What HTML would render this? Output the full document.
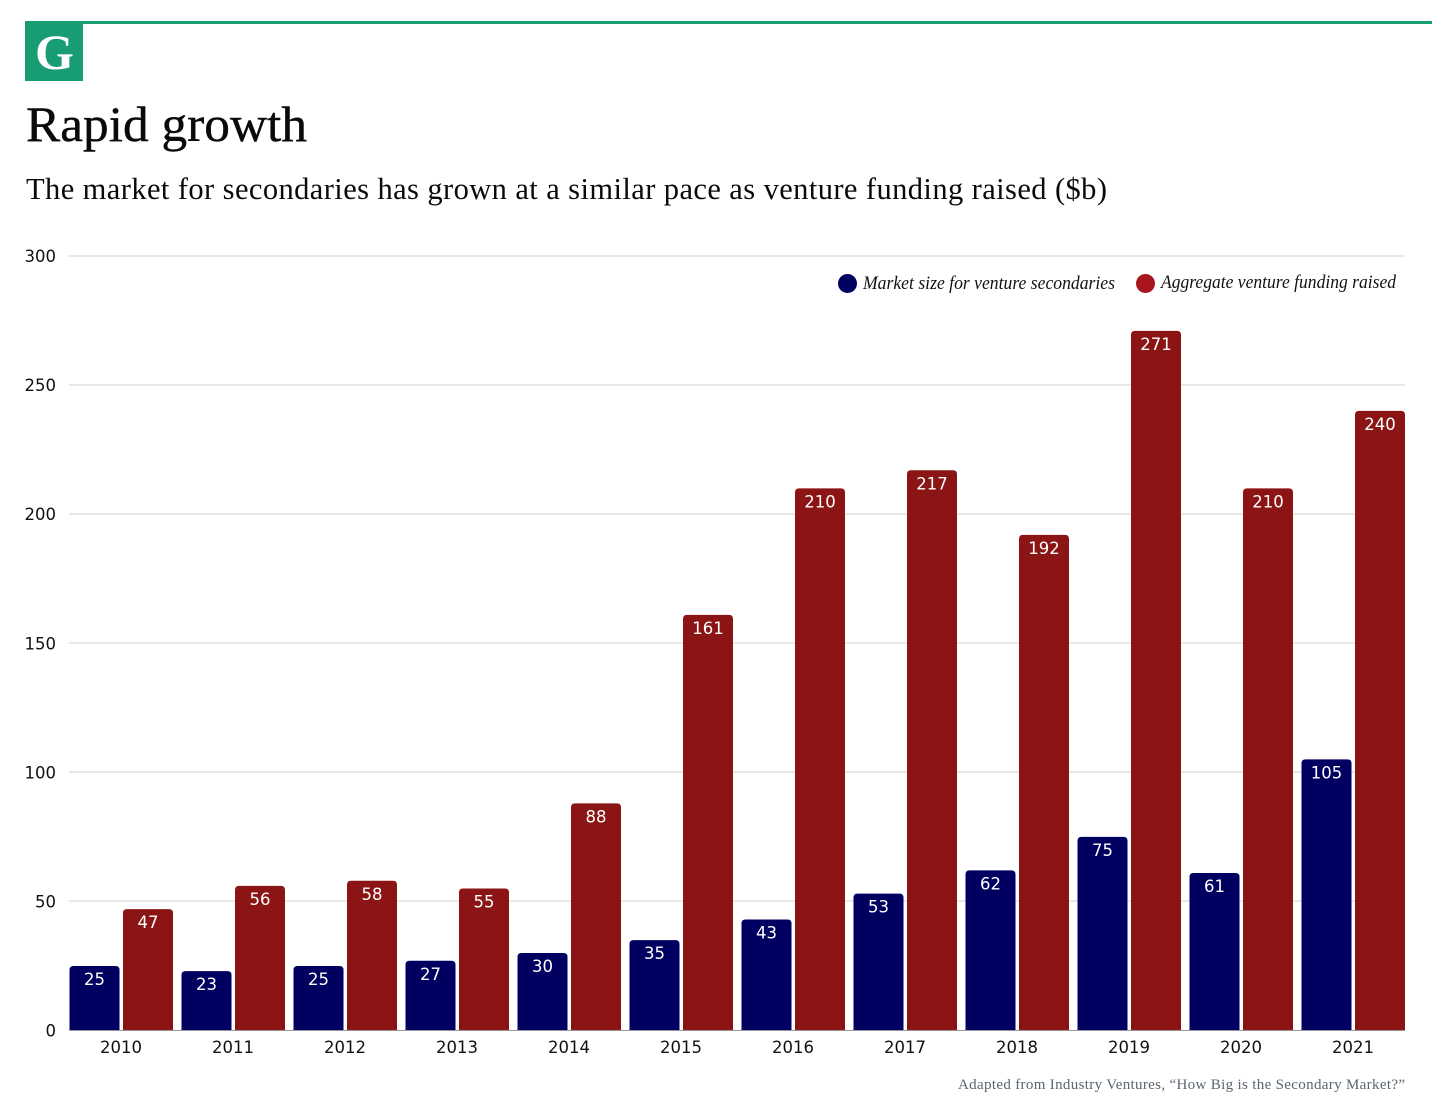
<!DOCTYPE html>
<html lang="en">
<head>
<meta charset="utf-8">
<title>Rapid growth</title>
<style>
html,body{margin:0;padding:0;background:#fff;width:1456px;height:1108px;overflow:hidden}
svg{display:block}
.serif{font-family:"Liberation Serif",serif}
.sans{font-family:"DejaVu Sans",sans-serif}
</style>
</head>
<body>
<svg id="chart" width="1456" height="1108" viewBox="0 0 1456 1108" xmlns="http://www.w3.org/2000/svg">
  <rect width="1456" height="1108" fill="#ffffff"/>
  <rect x="25" y="21" width="1407" height="3" fill="#179c73"/>
  <rect x="25" y="22" width="58" height="59" fill="#179c73"/>
  <text class="serif" x="54.5" y="69" font-size="50" font-weight="700" fill="#ffffff" text-anchor="middle">G</text>
  <text class="serif" x="26" y="141" font-size="50" fill="#0a0a0a" stroke="#0a0a0a" stroke-width="0.4" textLength="281" lengthAdjust="spacingAndGlyphs">Rapid growth</text>
  <text class="serif" x="26" y="199" font-size="30.5" fill="#0a0a0a" textLength="1081" lengthAdjust="spacing">The market for secondaries has grown at a similar pace as venture funding raised ($b)</text>
  <g id="grid"></g>
  <g id="bars"></g>
  <g id="xlabels"></g>
  <rect x="69" y="1030" width="1336" height="1" fill="#999999"/>
  <circle cx="847.5" cy="283.5" r="9.5" fill="#000060"/>
  <text class="serif" x="863" y="289" font-size="19" font-style="italic" fill="#111111" textLength="252" lengthAdjust="spacingAndGlyphs">Market size for venture secondaries</text>
  <circle cx="1145.5" cy="283.5" r="9.5" fill="#a8151c"/>
  <text class="serif" x="1161" y="288" font-size="19" font-style="italic" fill="#111111" textLength="235" lengthAdjust="spacingAndGlyphs">Aggregate venture funding raised</text>
  <text class="serif" x="1405" y="1089" font-size="15" fill="#5a6570" text-anchor="end" textLength="447" lengthAdjust="spacing">Adapted from Industry Ventures, “How Big is the Secondary Market?”</text>
</svg>
<script>
const categories = ["2010","2011","2012","2013","2014","2015","2016","2017","2018","2019","2020","2021"];
const secondaries = [25,23,25,27,30,35,43,53,62,75,61,105];
const funding = [47,56,58,55,88,161,210,217,192,271,210,240];
const yTicks = [0,50,100,150,200,250,300];

const NS = "http://www.w3.org/2000/svg";
function yScale(v){ return 1030.5 - v * (1030.5 - 256) / 300; }
function xBand(i){ return 69 + i * 112; }
const barW = 50;
const redOffset = 54;

function make(tag, attrs, parent){
  const el = document.createElementNS(NS, tag);
  for (const k in attrs) el.setAttribute(k, attrs[k]);
  parent.appendChild(el);
  return el;
}
function barPath(x, top, w, bottom){
  const r = Math.min(4, bottom - top);
  return "M" + x + " " + bottom + "V" + (top + r) + "Q" + x + " " + top + " " + (x + r) + " " + top +
         "H" + (x + w - r) + "Q" + (x + w) + " " + top + " " + (x + w) + " " + (top + r) + "V" + bottom + "Z";
}

const grid = document.getElementById("grid");
const barsG = document.getElementById("bars");
const xG = document.getElementById("xlabels");

yTicks.forEach(function(t){
  const y = yScale(t);
  if (t !== 0) {
    const line = make("rect", {x:69, y:Math.round(y) - 0.5, width:1336, height:1, fill:"#cfcfcf"}, grid);
    
    
  }
  const label = make("text", {x:56, y:y + 6, "font-size":16.5, fill:"#111111", "text-anchor":"end", "class":"sans"}, grid);
  
  
  label.textContent = t;
});

function drawBar(x, v, color, name){
  const top = yScale(v);
  const bar = make("path", {d:barPath(x, top, barW, 1030.5), fill:color}, barsG);
  
  
  const val = make("text", {x:x + barW / 2, y:top + 19, "font-size":16.5, fill:"#ffffff", "text-anchor":"middle", "class":"sans"}, barsG);
  
  
  val.textContent = v;
}

categories.forEach(function(c, i){
  const x = xBand(i);
  drawBar(x + 0.5, secondaries[i], "#000060", "bar-secondaries-" + c);
  drawBar(x + redOffset, funding[i], "#8b1515", "bar-funding-" + c);
  const label = make("text", {x:x + 52, y:1053, "font-size":16.5, fill:"#111111", "text-anchor":"middle", "class":"sans"}, xG);
  
  
  label.textContent = c;
});
</script>
</body>
</html>
